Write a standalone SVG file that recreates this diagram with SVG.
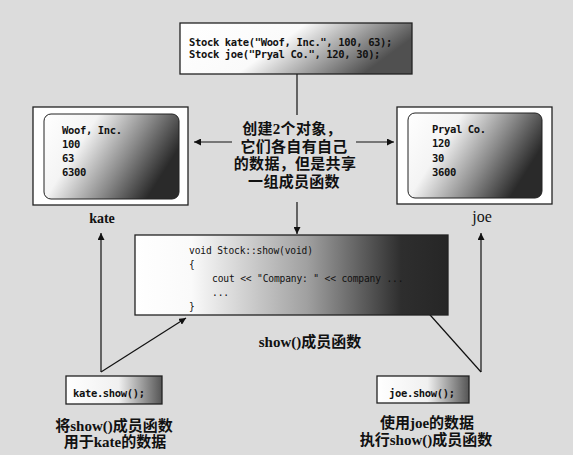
<svg xmlns="http://www.w3.org/2000/svg" width="573" height="455" viewBox="0 0 573 455">
<style>
.code{font-family:"DejaVu Sans Mono","Liberation Mono",monospace;font-size:10.5px;letter-spacing:-0.35px;fill:#111;font-weight:bold;}
.code2{font-family:"DejaVu Sans Mono","Liberation Mono",monospace;font-size:9.6px;letter-spacing:-0.15px;fill:#111;}
.lbl{font-family:"Liberation Serif","Noto Sans CJK SC",serif;font-weight:bold;font-size:15px;fill:#111;text-anchor:middle;}
.cjk{font-family:"Liberation Serif","Noto Sans CJK SC",serif;font-weight:bold;font-size:15px;fill:#111;text-anchor:middle;letter-spacing:0.3px;}
.box{stroke:#222;stroke-width:1.3;}
.conn line{stroke:#111;stroke-width:1.2;fill:none;}
</style>
<defs>
<linearGradient id="gTop" x1="0" y1="0" x2="1" y2="0.3">
<stop offset="0" stop-color="#fff"/><stop offset="0.5" stop-color="#fafafa"/><stop offset="1" stop-color="#505050"/>
</linearGradient>
<linearGradient id="gObj" x1="0" y1="0" x2="1" y2="0.4">
<stop offset="0" stop-color="#fff"/><stop offset="0.35" stop-color="#f4f4f4"/><stop offset="0.7" stop-color="#8a8a8a"/><stop offset="1" stop-color="#2a2a2a"/>
</linearGradient>
<linearGradient id="gFn" x1="0" y1="0" x2="1" y2="0">
<stop offset="0" stop-color="#fff"/><stop offset="0.18" stop-color="#fafafa"/><stop offset="0.55" stop-color="#a0a0a0"/><stop offset="0.85" stop-color="#2e2e2e"/><stop offset="1" stop-color="#262626"/>
</linearGradient>
<linearGradient id="gCall" x1="0" y1="0" x2="1" y2="0">
<stop offset="0" stop-color="#fff"/><stop offset="0.55" stop-color="#f0f0f0"/><stop offset="1" stop-color="#555"/>
</linearGradient>
<marker id="arr" viewBox="0 0 10 10" refX="10" refY="5" markerWidth="7" markerHeight="7" markerUnits="userSpaceOnUse" orient="auto">
<path d="M0,0 L10,5 L0,10 z" fill="#111"/>
</marker>
</defs>
<rect width="573" height="455" fill="#dcdcdc"/>

<g id="conn" class="conn">
<line x1="297" y1="74" x2="297" y2="115"/>
<line x1="232" y1="142" x2="194" y2="142" marker-end="url(#arr)"/>
<line x1="356" y1="142" x2="394" y2="142" marker-end="url(#arr)"/>
<line x1="297" y1="202" x2="297" y2="234" marker-end="url(#arr)"/>
<line x1="101" y1="372" x2="101" y2="233" marker-end="url(#arr)"/>
<line x1="101" y1="372" x2="186" y2="318" marker-end="url(#arr)"/>
<line x1="481" y1="372" x2="481" y2="233" marker-end="url(#arr)"/>
<line x1="481" y1="372" x2="423" y2="307" marker-end="url(#arr)"/>
</g>

<g id="decl">
<rect class="box" x="180" y="23" width="232" height="51" fill="url(#gTop)"/>
<text class="code" x="189" y="46">Stock kate("Woof, Inc.", 100, 63);</text>
<text class="code" x="189" y="57.5">Stock joe("Pryal Co.", 120, 30);</text>
</g>

<g id="note">
<text class="cjk" x="292" y="134">创建2个对象，</text>
<text class="cjk" x="294" y="151.5">它们各自有自己</text>
<text class="cjk" x="295" y="169">的数据，但是共享</text>
<text class="cjk" x="294" y="187">一组成员函数</text>
</g>

<g id="kate">
<rect class="box" x="33" y="107" width="155" height="98" fill="#fff"/>
<rect x="44" y="114" width="135" height="85" rx="7" fill="url(#gObj)" stroke="#222" stroke-width="1"/>
<text class="code" x="62" y="134">Woof, Inc.</text>
<text class="code" x="62" y="148">100</text>
<text class="code" x="62" y="162">63</text>
<text class="code" x="62" y="176">6300</text>
<text class="lbl" x="102" y="223" style="font-size:14px">kate</text>
</g>

<g id="joe">
<rect class="box" x="397" y="107" width="155" height="97" fill="#fff"/>
<rect x="408" y="113" width="134" height="85" rx="7" fill="url(#gObj)" stroke="#222" stroke-width="1"/>
<text class="code" x="432" y="133">Pryal Co.</text>
<text class="code" x="432" y="147">120</text>
<text class="code" x="432" y="162">30</text>
<text class="code" x="432" y="176">3600</text>
<text class="lbl" x="482" y="222" style="font-weight:normal;font-size:16px">joe</text>
</g>

<g id="show">
<rect class="box" x="135" y="235" width="313" height="80" fill="url(#gFn)"/>
<text class="code2" x="189" y="253.5">void Stock::show(void)</text>
<text class="code2" x="189" y="267.5">{</text>
<text class="code2" x="212" y="281.5">cout &lt;&lt; "Company: " &lt;&lt; company ...</text>
<text class="code2" x="212" y="295.5">...</text>
<text class="code2" x="189" y="309.5">}</text>
<text class="lbl" x="310" y="347">show()成员函数</text>
</g>

<g id="kateshow">
<rect class="box" x="66" y="376" width="96" height="28" fill="url(#gCall)"/>
<text class="code" x="73" y="396.5">kate.show();</text>
<text class="lbl" x="114" y="431">将show()成员函数</text>
<text class="lbl" x="115" y="447">用于kate的数据</text>
</g>

<g id="joeshow">
<rect class="box" x="377" y="376" width="92" height="27" fill="url(#gCall)"/>
<text class="code" x="389" y="396.5">joe.show();</text>
<text class="lbl" x="427" y="428">使用joe的数据</text>
<text class="lbl" x="426" y="445">执行show()成员函数</text>
</g>
</svg>
